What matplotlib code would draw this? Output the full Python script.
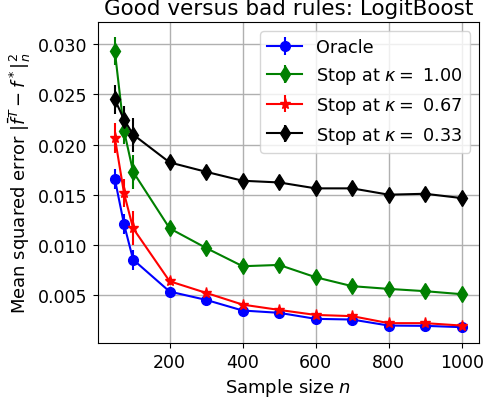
#!/usr/bin/env python3

import matplotlib

matplotlib.use("Agg")
import matplotlib.pyplot as plt

# Sample sizes
sample_sizes = [50, 75, 100, 200, 300, 400, 500, 600, 700, 800, 900, 1000]

# Mean squared errors per rule
mse_oracle = [0.01655, 0.01207, 0.00852, 0.00533, 0.00450, 0.00344,
              0.00321, 0.00261, 0.00254, 0.00194, 0.00191, 0.00178]
mse_kappa_100 = [0.0293, 0.0214, 0.01728, 0.01164, 0.00968, 0.00786,
                 0.00799, 0.00676, 0.00587, 0.00560, 0.00537, 0.00507]
mse_kappa_067 = [0.0207, 0.01516, 0.01164, 0.00636, 0.00520, 0.00403,
                 0.00350, 0.00300, 0.00288, 0.00218, 0.00218, 0.00194]
mse_kappa_033 = [0.0245, 0.0225, 0.0210, 0.01822, 0.01728, 0.01639,
                 0.01622, 0.01563, 0.01563, 0.01500, 0.01509, 0.01466]

# Standard errors per rule
err_oracle = [0.0010, 0.0010, 0.0010, 0.0003, 0.0003, 0.0002,
              0.0002, 0.0002, 0.0002, 0.0002, 0.0002, 0.0002]
err_kappa_100 = [0.0014, 0.0013, 0.0017, 0.0004, 0.0004, 0.0004,
                 0.0004, 0.0004, 0.0003, 0.0003, 0.0003, 0.0003]
err_kappa_067 = [0.0015, 0.0014, 0.0017, 0.0004, 0.0003, 0.0003,
                 0.0003, 0.0002, 0.0002, 0.0002, 0.0002, 0.0002]
err_kappa_033 = [0.0014, 0.0013, 0.0017, 0.0004, 0.0004, 0.0003,
                 0.0003, 0.0003, 0.0003, 0.0003, 0.0003, 0.0003]

labels = ["Oracle", r"Stop at $\kappa =$ 1.00", r"Stop at $\kappa =$ 0.67",
          r"Stop at $\kappa =$ 0.33"]


def main() -> None:
    fig = plt.figure(figsize=(4.84, 4.02), dpi=100)
    ax = fig.add_axes([0.2015, 0.1443, 0.7882, 0.7977])

    series = [
        (mse_oracle, err_oracle, "blue", "o", 7),
        (mse_kappa_100, err_kappa_100, "green", "d", 8),
        (mse_kappa_067, err_kappa_067, "red", "*", 8),
        (mse_kappa_033, err_kappa_033, "black", "d", 8),
    ]
    for (mse, err, color, marker, size), label in zip(series, labels):
        ax.errorbar(sample_sizes, mse, yerr=err, color=color, marker=marker,
                    markersize=size, linewidth=1.5, label=label)

    ax.set_ylim(0.0002, 0.0322)
    ax.set_xticks([200, 400, 600, 800, 1000])
    ax.set_yticks([0.005, 0.010, 0.015, 0.020, 0.025, 0.030])
    ax.grid(True, color="#b0b0b0", linewidth=1)
    ax.tick_params(labelsize=12.5)
    ax.set_xlabel("Sample size $n$", fontsize=13)
    ax.set_ylabel(r"Mean squared error $|\bar{f}^T - f^*|_n^2$", fontsize=13)
    ax.set_title("Good versus bad rules: LogitBoost", fontsize=15.5)
    ax.legend(loc="upper right", fontsize=12.7)

    fig.savefig("out.png", dpi=100)


if __name__ == "__main__":
    main()
